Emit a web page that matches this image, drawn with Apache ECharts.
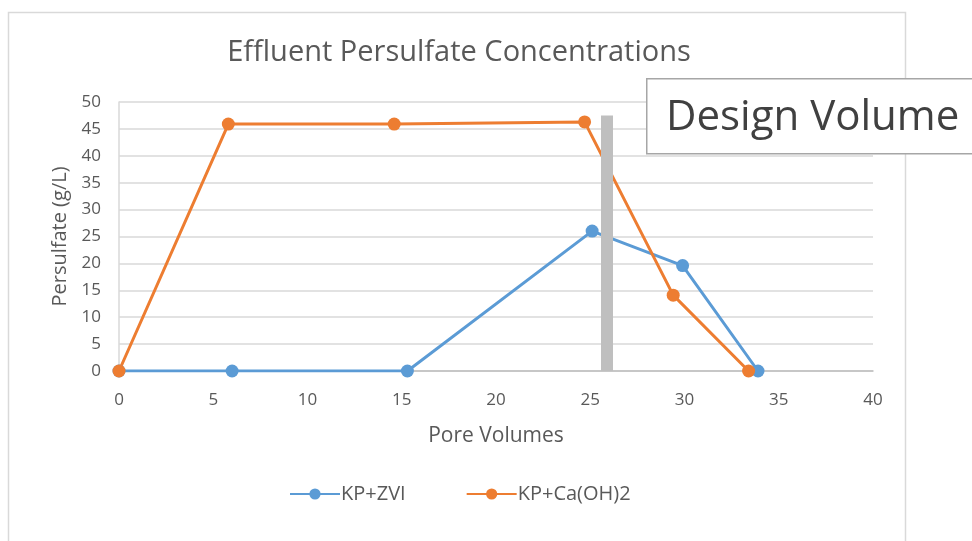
<!DOCTYPE html>
<html>
<head>
<meta charset="utf-8">
<script src="https://cdn.jsdelivr.net/npm/echarts@6/dist/echarts.min.js"></script>
<style>
  html, body { margin: 0; padding: 0; background: #fff; }
  #chart { width: 972px; height: 541px; }
</style>
</head>
<body>
<div id="chart"></div>
<script>
// Data
var zviX = [0, 6, 15.3, 25.1, 29.9, 33.9];
var zviY = [0, 0, 0, 26, 19.6, 0];
var caX = [0, 5.8, 14.6, 24.7, 29.4, 33.4];
var caY = [0, 45.9, 45.9, 46.3, 14.1, 0];
var designX = 25.9;
var designTop = 47.5;

var font = '"Open Sans", "Noto Sans", sans-serif';
var textGray = '#595959';

function pairs(xs, ys) {
    return xs.map(function (x, i) { return [x, ys[i]]; });
}

var chart = echarts.init(document.getElementById('chart'));

var option = {
    animation: false,
    backgroundColor: '#fff',
    textStyle: { fontFamily: font },
    title: {
        text: 'Effluent Persulfate Concentrations',
        left: 454,
        textAlign: 'center',
        top: 33,
        textStyle: { fontFamily: font, fontSize: 29, fontWeight: 'normal', color: textGray }
    },
    legend: {
        top: 479,
        left: 284,
        itemGap: 60,
        itemWidth: 50,
        itemHeight: 14,
        textStyle: { fontFamily: font, fontSize: 20, color: textGray, padding: [0, 0, 0, -4] },
        data: ['KP+ZVI', 'KP+Ca(OH)2']
    },
    grid: { left: 119, right: 99, top: 102, bottom: 170 },
    xAxis: {
        type: 'value',
        min: 0,
        max: 40,
        interval: 5,
        name: 'Pore Volumes',
        nameLocation: 'middle',
        nameGap: 55,
        nameTextStyle: { fontFamily: font, fontSize: 21, color: textGray },
        axisLine: { lineStyle: { color: '#bfbfbf', width: 1.5 } },
        axisTick: { show: false },
        splitLine: { show: false },
        axisLabel: { fontFamily: font, fontSize: 17, color: textGray, margin: 21 }
    },
    yAxis: {
        type: 'value',
        min: 0,
        max: 50,
        interval: 5,
        name: 'Persulfate (g/L)',
        nameLocation: 'middle',
        nameGap: 49,
        nameTextStyle: { fontFamily: font, fontSize: 20, color: textGray },
        axisLine: { show: true, lineStyle: { color: '#d9d9d9', width: 1.5 } },
        axisTick: { show: false },
        splitLine: { lineStyle: { color: '#d9d9d9', width: 1.5 } },
        axisLabel: { fontFamily: font, fontSize: 17, color: textGray, margin: 18 }
    },
    series: [
        {
            name: 'KP+ZVI',
            type: 'line',
            data: pairs(zviX, zviY),
            symbol: 'circle',
            symbolSize: 13,
            color: '#5b9bd5',
            lineStyle: { width: 3 },
            z: 3
        },
        {
            name: 'KP+Ca(OH)2',
            type: 'line',
            data: pairs(caX, caY),
            symbol: 'circle',
            symbolSize: 13,
            color: '#ed7d31',
            lineStyle: { width: 3 },
            z: 3,
            markLine: {
                silent: true,
                symbol: 'none',
                label: { show: false },
                lineStyle: { color: '#bfbfbf', width: 12, type: 'solid' },
                z: 4,
                data: [[{ coord: [designX, 0] }, { coord: [designX, designTop] }]]
            }
        }
    ],
    graphic: [
        {
            type: 'rect',
            left: 6,
            top: 10,
            shape: { width: 897, height: 560 },
            style: { fill: 'none', stroke: '#d9d9d9', lineWidth: 1.5 },
            z: -1,
            silent: true
        },
        {
            type: 'rect',
            left: 646,
            top: 78,
            shape: { width: 340, height: 75 },
            style: { fill: '#fff', stroke: '#a6a6a6', lineWidth: 1.5 },
            z: 10
        },
        {
            type: 'text',
            left: 666,
            top: 97,
            style: { text: 'Design Volume', font: '42px "Open Sans", "Noto Sans", sans-serif', fill: '#404040' },
            z: 11
        }
    ]
};

chart.setOption(option);
</script>
</body>
</html>
